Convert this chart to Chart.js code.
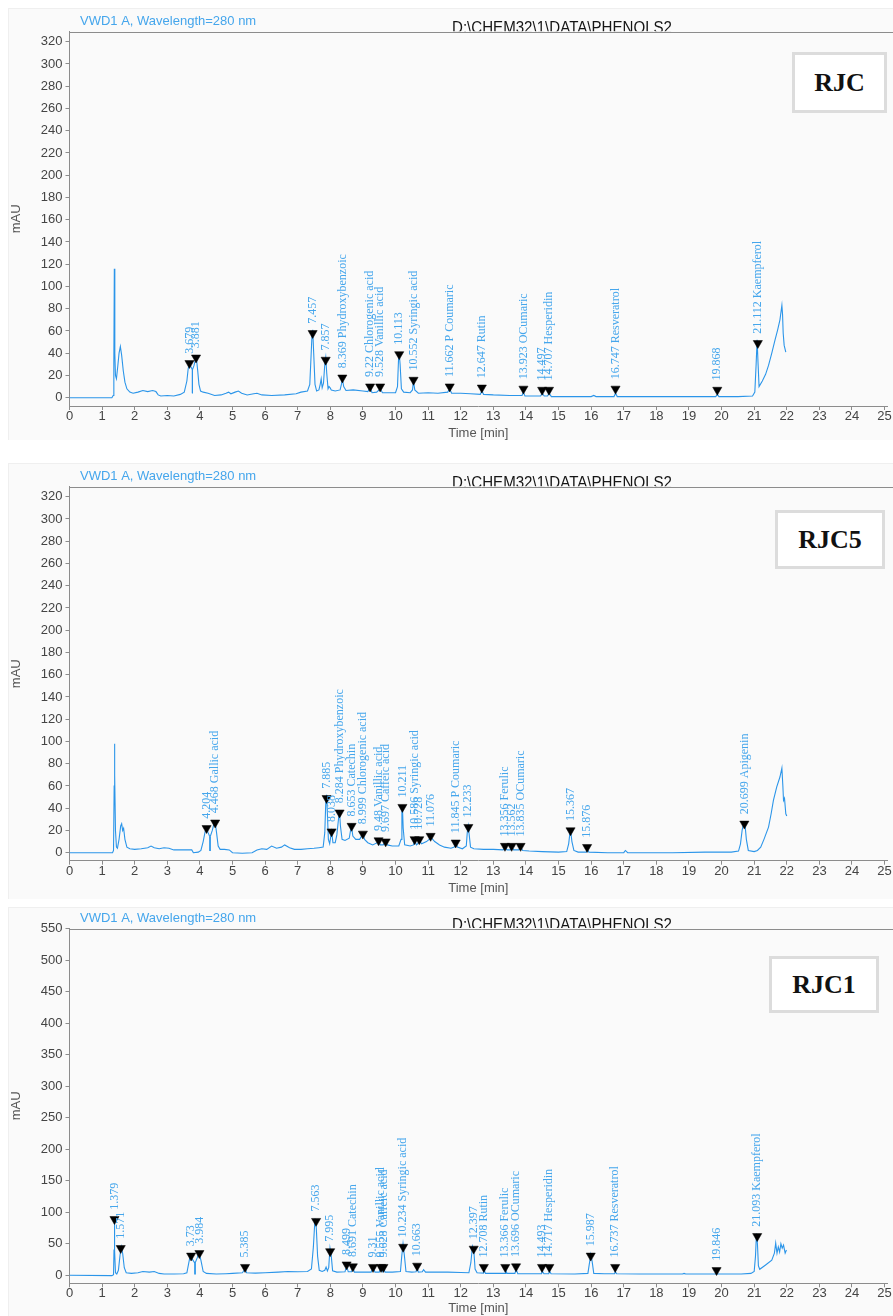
<!DOCTYPE html>
<html>
<head>
<meta charset="utf-8">
<title>RJC chromatograms</title>
<script src="https://cdn.jsdelivr.net/npm/chart.js@4.4.1/dist/chart.umd.min.js"></script>
<style>
  html, body { margin: 0; padding: 0; background: #ffffff; }
  #page { position: relative; width: 893px; height: 1316px; overflow: hidden; }
  .sheet { position: absolute; left: 8px; width: 885px; background: #fafafa; border-left: 1px solid #efefef; border-top: 1px solid #efefef; }
  .plot { position: absolute; left: 0; }
  .tag { position: absolute; box-sizing: border-box; background: #fff; border: 3px solid #dcdcdc;
         font: bold 26px "Liberation Serif", "Times New Roman", serif; color: #111;
         display: flex; align-items: center; justify-content: center; }
</style>
</head>
<body>
<div id="page">
  <div class="sheet" style="top:8px;height:431px"></div>
  <div class="sheet" style="top:463px;height:435px"></div>
  <div class="sheet" style="top:907px;height:409px"></div>
  <canvas id="rjc" class="plot" style="top:0px" width="893" height="445"></canvas>
  <canvas id="rjc5" class="plot" style="top:450px" width="893" height="450"></canvas>
  <canvas id="rjc1" class="plot" style="top:900px" width="893" height="416"></canvas>
  <div class="tag" style="left:792px;top:52px;width:95px;height:61px">RJC</div>
  <div class="tag" style="left:775px;top:510px;width:110px;height:59px">RJC5</div>
  <div class="tag" style="left:769px;top:956px;width:110px;height:57px">RJC1</div>
</div>
<script>
// ---- data ----
const detectorText = 'VWD1 A, Wavelength=280 nm';
const fileText = 'D:\\CHEM32\\1\\DATA\\PHENOLS2';

const xTicks = [0,1,2,3,4,5,6,7,8,9,10,11,12,13,14,15,16,17,18,19,20,21,22,23,24,25];
const rjcYTicks = [0,20,40,60,80,100,120,140,160,180,200,220,240,260,280,300,320];
const rjc5YTicks = [0,20,40,60,80,100,120,140,160,180,200,220,240,260,280,300,320];
const rjc1YTicks = [0,50,100,150,200,250,300,350,400,450,500,550];

// [time min, mAU]
const rjcTrace = [
  [0,0],[1.30,0],[1.34,2],[1.36,30],[1.375,116],[1.39,40],[1.41,20],[1.44,17],[1.48,28],[1.52,40],
  [1.56,46],[1.60,38],[1.65,24],[1.70,14],[1.76,8],[1.85,5],[1.95,4],[2.1,5],[2.25,6.5],[2.4,5.5],
  [2.55,6.5],[2.65,5.5],[2.72,2.5],[2.8,1.5],[3.0,2],[3.2,1.5],[3.4,3],[3.52,5],[3.6,15],[3.64,26],
  [3.68,31],[3.72,28],[3.77,25],[3.82,29],[3.86,34],[3.89,36],[3.93,25],[3.97,12],[4.02,6],[4.1,5],
  [4.25,4],[4.45,2],[4.65,2.5],[4.8,4],[4.88,5],[4.95,3.5],[5.08,5],[5.18,6],[5.28,4],[5.45,2.5],
  [5.65,3.5],[5.75,4],[5.9,2.5],[6.2,2],[6.6,2.5],[6.95,3.5],[7.1,5],[7.3,6],[7.37,12],[7.41,38],
  [7.44,58],[7.46,61],[7.49,40],[7.53,12],[7.58,6],[7.65,7],[7.69,12],[7.72,17],[7.75,9],[7.79,13],
  [7.83,30],[7.86,36],[7.89,22],[7.93,8],[7.96,10],[7.99,9],[8.03,7],[8.15,6],[8.3,7],[8.34,12],
  [8.37,17],[8.41,10],[8.48,6.5],[8.7,7],[9.0,6],[9.15,5.5],[9.22,9],[9.28,4.5],[9.42,5],[9.53,8],
  [9.6,4.5],[9.8,4.5],[10.0,4.5],[10.06,10],[10.09,33],[10.11,41],[10.14,30],[10.18,8],[10.25,5],[10.45,4.5],
  [10.52,7],[10.55,15],[10.59,7],[10.7,4],[11.0,4.5],[11.3,4],[11.6,5],[11.66,8],[11.72,4],[12.0,4],
  [12.3,3.5],[12.6,3],[12.65,6],[12.7,3],[13.0,2.5],[13.5,2],[13.88,2],[13.92,5],[13.97,1.5],[14.2,1.5],
  [14.45,1.5],[14.5,4],[14.56,1.5],[14.66,1.5],[14.71,4],[14.78,1],[15.2,1],[16.0,1],[16.08,2],[16.15,1],
  [16.7,1],[16.75,4],[16.8,1],[17.5,1],[18.5,1],[19.82,1],[19.87,3],[19.92,1],[20.5,1],[20.95,1.5],
  [21.02,5],[21.06,30],[21.09,52],[21.12,30],[21.15,10],[21.25,15],[21.35,21],[21.44,29],[21.54,40],[21.64,52],
  [21.72,61],[21.79,70],[21.85,83],[21.87,75],[21.89,58],[21.92,47],[21.97,41]
];
const rjcPeakTimes = [3.679,3.881,7.457,7.857,8.369,9.22,9.528,10.113,10.552,11.662,12.647,13.923,14.497,14.707,16.747,19.868,21.112];
const rjcPeakHeights = [31,36,58,34,18,10,10,39,16,10,9,8,7,7,8,7,49];
const rjcPeakLabels = ['3.679','3.881','7.457','7.857','8.369 Phydroxybenzoic','9.22 Chlorogenic acid','9.528 Vanillic acid',
  '10.113','10.552 Syringic acid','11.662 P Coumaric','12.647 Rutin','13.923 OCumaric','14.497','14.707 Hesperidin',
  '16.747 Resveratrol','19.868','21.112 Kaempferol'];
const rjcDropTimes = [3.77];
const rjcDropTops = [25];
const rjcDropBottoms = [4];

const rjc5Trace = [
  [0,0],[1.32,0],[1.35,2],[1.37,60],[1.38,98],[1.39,70],[1.41,20],[1.44,5],[1.47,4],[1.52,12],
  [1.57,24],[1.6,26],[1.63,20],[1.66,22],[1.7,12],[1.76,5],[1.85,3.5],[2.0,3],[2.2,3.5],[2.4,4.5],
  [2.5,6],[2.6,4.5],[2.75,3.5],[2.9,4.5],[3.05,4],[3.2,2.5],[3.5,2.5],[3.75,2.5],[3.8,0],[3.95,0.5],
  [4.03,2],[4.1,10],[4.16,19],[4.2,22],[4.25,18],[4.31,14],[4.38,20],[4.43,26],[4.47,27],[4.51,18],
  [4.56,6],[4.62,3],[4.75,3],[4.9,2.5],[5.0,0],[5.3,-0.5],[5.6,0],[5.75,2.5],[5.9,3.5],[6.05,3],
  [6.2,6],[6.35,4],[6.5,5],[6.6,7],[6.75,4.5],[6.9,3],[7.1,3],[7.3,3.5],[7.5,4],[7.65,4.5],
  [7.78,5],[7.83,18],[7.86,45],[7.885,52],[7.91,35],[7.94,12],[7.98,8],[8.01,14],[8.04,19],[8.08,9],
  [8.15,9],[8.2,16],[8.25,30],[8.28,38],[8.31,24],[8.36,12],[8.45,11],[8.58,13],[8.62,20],[8.65,24],
  [8.69,15],[8.78,12],[8.9,12],[8.96,15],[9.0,17],[9.05,12],[9.15,9],[9.3,7],[9.44,9],[9.48,11],
  [9.53,7],[9.62,7],[9.7,10],[9.75,7],[9.9,6],[10.1,6],[10.17,12],[10.195,38],[10.21,42],[10.235,22],
  [10.28,7],[10.45,6],[10.55,7],[10.59,11],[10.64,7],[10.68,8],[10.73,11],[10.8,8],[10.95,10],[11.03,12],
  [11.08,14],[11.2,10],[11.35,7],[11.5,5],[11.7,4],[11.8,5],[11.85,9],[11.9,5],[12.05,3.5],[12.17,6],
  [12.2,18],[12.23,24],[12.26,16],[12.3,5],[12.4,3.5],[12.7,3],[13.0,3],[13.3,2.5],[13.35,5],[13.42,2.5],
  [13.52,2.5],[13.56,5],[13.62,2.5],[13.78,2.5],[13.83,5.5],[13.9,2],[14.1,1.5],[14.5,1],[15.0,0.5],[15.25,1],
  [15.31,8],[15.35,18],[15.37,20],[15.41,10],[15.47,2],[15.6,0.5],[15.85,0.5],[15.88,3],[15.93,0.5],[16.5,0],
  [17.0,0],[17.05,2],[17.12,0],[18.5,0],[19.5,0.5],[20.3,0.5],[20.52,1.5],[20.58,8],[20.63,20],[20.68,27],
  [20.72,25],[20.76,12],[20.82,2],[21.0,1],[21.1,2],[21.2,5],[21.3,12],[21.44,23],[21.52,35],[21.59,47],
  [21.69,59],[21.79,68],[21.85,76],[21.88,60],[21.9,47],[21.93,49],[21.97,35],[22.0,33]
];
const rjc5PeakTimes = [4.204,4.468,7.885,8.038,8.284,8.653,8.999,9.48,9.697,10.211,10.585,10.728,11.076,11.845,12.233,13.356,13.562,13.835,15.367,15.876,20.699];
const rjc5PeakHeights = [22,27,49,19,36,24,17,11,10,41,12,12,15,9,23,6,6,6,20,5,26];
const rjc5PeakLabels = ['4.204','4.468 Gallic acid','7.885','8.038','8.284 Phydroxybenzoic','8.653 Catechin','8.999 Chlorogenic acid',
  '9.48 Vanillic acid','9.697 Caffeic acid','10.211','10.586 Syringic acid','10.728','11.076','11.845 P Coumaric','12.233',
  '13.356 Ferulic','13.562','13.835 OCumaric','15.367','15.876','20.699 Apigenin'];
const rjc5DropTimes = [4.31];
const rjc5DropTops = [14];
const rjc5DropBottoms = [1.5];

const rjc1Trace = [
  [0,0],[1.3,-0.5],[1.35,1],[1.365,40],[1.375,91],[1.39,40],[1.41,4],[1.45,2],[1.5,8],[1.55,32],
  [1.59,45],[1.63,35],[1.68,12],[1.74,4],[1.9,3],[2.1,4],[2.25,6],[2.45,5],[2.6,6],[2.75,3],
  [2.9,2],[3.2,2],[3.5,2.5],[3.6,4],[3.66,20],[3.71,33],[3.76,26],[3.85,19],[3.92,28],[3.97,36],
  [4.03,24],[4.1,6],[4.2,3],[4.5,2],[4.8,2.5],[5.0,3],[5.3,4],[5.36,8],[5.39,10],[5.43,4],
  [5.7,3.5],[6.0,4],[6.4,5],[6.7,6],[7.0,5.5],[7.3,6],[7.42,10],[7.48,45],[7.53,90],[7.57,75],
  [7.61,30],[7.66,8],[7.75,6],[7.83,8],[7.87,13],[7.91,7],[7.95,12],[7.99,43],[8.03,30],[8.07,7],
  [8.2,5],[8.45,5.5],[8.5,15],[8.55,5.5],[8.65,5.5],[8.69,12],[8.74,5],[9.0,5],[9.25,5],[9.31,12],
  [9.37,5],[9.5,5],[9.55,12],[9.59,6],[9.63,12],[9.68,5],[9.9,5],[10.15,6],[10.19,30],[10.23,50],
  [10.27,32],[10.32,6],[10.5,5],[10.63,5.5],[10.66,13],[10.7,5],[10.82,5.5],[10.86,9],[10.92,5],[11.2,5],
  [11.6,5],[12.0,4.5],[12.25,4],[12.31,20],[12.36,46],[12.4,40],[12.44,10],[12.5,4],[12.7,3.5],[12.72,8],
  [12.76,3],[13.0,3],[13.36,3],[13.38,8],[13.42,3],[13.66,3],[13.7,9],[13.75,2.5],[14.2,2.5],[14.48,2.5],
  [14.5,7],[14.55,2.5],[14.7,2.5],[14.72,7],[14.77,2.5],[15.5,2],[15.9,3],[15.95,20],[15.99,33],[16.03,22],
  [16.08,3],[16.4,2.5],[16.72,2.5],[16.74,6],[16.78,2.5],[17.5,2],[18.8,2],[18.85,3],[18.9,2],[19.82,2],
  [19.85,5],[19.88,2],[20.6,2],[20.9,3],[21.0,6],[21.04,30],[21.07,66],[21.1,50],[21.13,15],[21.17,9.5],
  [21.34,16],[21.54,24],[21.62,35],[21.66,51],[21.7,35],[21.74,45],[21.78,37],[21.82,50],[21.86,43],[21.9,48],
  [21.95,35],[21.99,40]
];
const rjc1PeakTimes = [1.379,1.571,3.73,3.984,5.385,7.563,7.995,8.499,8.691,9.31,9.555,9.628,10.234,10.663,12.397,12.708,13.366,13.696,14.493,14.717,15.987,16.737,19.846,21.093];
const rjc1PeakHeights = [89,43,31,35,13,86,38,17,14,13,13,13,45,15,42,13,13,14,13,13,31,13,8,62];
const rjc1PeakLabels = ['1.379','1.571','3.73','3.984','5.385','7.563','7.995','8.499','8.691 Catechin','9.31',
  '9.555 Vanillic acid','9.628 Caffeic acid','10.234 Syringic acid','10.663','12.397','12.708 Rutin','13.366 Ferulic',
  '13.696 OCumaric','14.493','14.717 Hesperidin','15.987','16.737 Resveratrol','19.846','21.093 Kaempferol'];
const rjc1DropTimes = [3.85];
const rjc1DropTops = [19];
const rjc1DropBottoms = [1.5];

// ---- drawing ----
const traceBlue = '#2b95e9';
const labelBlue = '#45a6ec';
const axisGrey = '#8c8c8c';
Chart.defaults.font.family = '"Liberation Sans", Arial, sans-serif';

// rotated peak labels above each marker
const peakLabels = {
  id: 'peakLabels',
  afterDatasetsDraw(chart, args, opts) {
    const {ctx, scales: {x, y}} = chart;
    ctx.save();
    ctx.fillStyle = labelBlue;
    ctx.font = '12px "Liberation Serif", "Times New Roman", serif';
    ctx.textAlign = 'left';
    ctx.textBaseline = 'middle';
    opts.times.forEach((t, i) => {
      const px = x.getPixelForValue(t);
      const py = y.getPixelForValue(opts.heights[i]);
      ctx.save();
      ctx.translate(px, py - 9.5);
      ctx.rotate(-Math.PI / 2);
      ctx.fillText(opts.labels[i], 0, 0);
      ctx.restore();
    });
    ctx.restore();
  }
};

// header texts and the frame line on top
const header = {
  id: 'header',
  afterDraw(chart) {
    const {ctx, chartArea: a} = chart;
    ctx.save();
    ctx.beginPath();
    ctx.rect(0, 0, chart.width, a.top - 0.5);
    ctx.clip();
    ctx.fillStyle = '#151515';
    ctx.font = '16px "Liberation Sans Narrow", "Liberation Sans", sans-serif';
    ctx.textBaseline = 'alphabetic';
    ctx.fillText(fileText, 452, a.top + 1, 220);
    ctx.restore();

    ctx.save();
    ctx.fillStyle = labelBlue;
    ctx.font = '13px "Liberation Sans", Arial, sans-serif';
    ctx.textBaseline = 'middle';
    ctx.fillText(detectorText, 80, a.top - 10.5);
    ctx.strokeStyle = axisGrey;
    ctx.lineWidth = 1;
    ctx.beginPath();
    ctx.moveTo(a.left, Math.round(a.top) + 0.5);
    ctx.lineTo(chart.width, Math.round(a.top) + 0.5);
    ctx.stroke();
    ctx.restore();
  }
};

function drawPanel(p) {
  const datasets = [{
    data: p.peakTimes.map((t, i) => ({x: t, y: p.peakHeights[i]})),
    showLine: false,
    pointStyle: 'triangle',
    rotation: 180,
    pointRadius: 5.3,
    pointBackgroundColor: '#000',
    pointBorderColor: '#000',
    pointBorderWidth: 0.5
  }];
  p.dropTimes.forEach((t, i) => {
    datasets.push({
      data: [{x: t, y: p.dropTops[i]}, {x: t, y: p.dropBottoms[i]}],
      showLine: true, pointRadius: 0, borderColor: traceBlue, borderWidth: 1
    });
  });
  datasets.push({
    data: p.trace.map(d => ({x: d[0], y: d[1]})),
    showLine: true, pointRadius: 0, borderColor: traceBlue, borderWidth: 1.1, tension: 0
  });

  new Chart(document.getElementById(p.id), {
    type: 'scatter',
    data: {datasets},
    options: {
      responsive: false,
      animation: false,
      events: [],
      layout: {padding: {top: p.padTop, left: 0, right: 0, bottom: 0}},
      plugins: {
        legend: {display: false},
        tooltip: {enabled: false},
        peakLabels: {times: p.peakTimes, heights: p.peakHeights, labels: p.peakLabels}
      },
      scales: {
        x: {
          type: 'linear', min: 0, max: 25.08,
          afterBuildTicks: s => { s.ticks = xTicks.map(v => ({value: v})); },
          afterFit: s => { s.height = p.xAxisH; s.paddingLeft = 0; s.paddingRight = 0; },
          ticks: {color: '#444', font: {size: 13, lineHeight: 1}, padding: 0, maxRotation: 0, autoSkip: false},
          grid: {drawOnChartArea: false, tickLength: 4, color: axisGrey},
          border: {color: axisGrey},
          title: {display: true, text: 'Time [min]', color: '#555', font: {size: 13},
                  padding: {top: 0, bottom: p.titlePad}}
        },
        y: {
          type: 'linear', min: p.yMin, max: p.yMax,
          afterBuildTicks: s => { s.ticks = p.yTicks.map(v => ({value: v})); },
          afterFit: s => { s.width = 69.5; s.paddingTop = 0; s.paddingBottom = 0; },
          ticks: {color: '#444', font: {size: 13}, padding: 3, autoSkip: false},
          grid: {drawOnChartArea: false, tickLength: 4, color: axisGrey},
          border: {color: axisGrey},
          title: {display: true, text: 'mAU', color: '#555', font: {size: 13},
                  padding: {top: 9, bottom: 0}}
        }
      }
    },
    plugins: [peakLabels, header]
  });
}

drawPanel({id: 'rjc', trace: rjcTrace, peakTimes: rjcPeakTimes, peakHeights: rjcPeakHeights, peakLabels: rjcPeakLabels,
  dropTimes: rjcDropTimes, dropTops: rjcDropTops, dropBottoms: rjcDropBottoms,
  yTicks: rjcYTicks, yMin: -7.46, yMax: 329, padTop: 31.7, xAxisH: 39, titlePad: 4.2});
drawPanel({id: 'rjc5', trace: rjc5Trace, peakTimes: rjc5PeakTimes, peakHeights: rjc5PeakHeights, peakLabels: rjc5PeakLabels,
  dropTimes: rjc5DropTimes, dropTops: rjc5DropTops, dropBottoms: rjc5DropBottoms,
  yTicks: rjc5YTicks, yMin: -7.2, yMax: 329, padTop: 36.7, xAxisH: 39.3, titlePad: 4.2});
drawPanel({id: 'rjc1', trace: rjc1Trace, peakTimes: rjc1PeakTimes, peakHeights: rjc1PeakHeights, peakLabels: rjc1PeakLabels,
  dropTimes: rjc1DropTimes, dropTops: rjc1DropTops, dropBottoms: rjc1DropBottoms,
  yTicks: rjc1YTicks, yMin: -12.7, yMax: 550, padTop: 28.5, xAxisH: 32.7, titlePad: 0});
</script>
</body>
</html>
